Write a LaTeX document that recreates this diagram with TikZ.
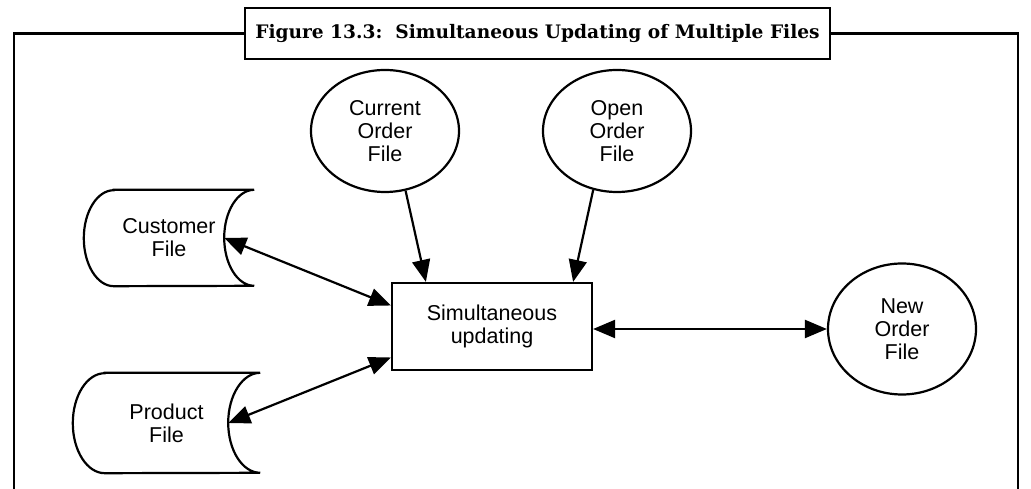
\documentclass[tikz,border=0pt]{standalone}
\usepackage{fontspec}
\setmainfont{Liberation Sans}
\newfontfamily\capfont{DejaVu Serif}
\usetikzlibrary{arrows.meta,shapes.geometric}
\newcommand{\storeoutline}[3]{\draw[line width=2.2pt] ([xshift=#2pt]#1.north west) -- (#1.north east) arc[start angle=90,end angle=270,x radius=#2,y radius=#3] -- ([xshift=#2pt]#1.south west) arc[start angle=270,end angle=90,x radius=#2,y radius=#3] -- cycle;}

\begin{document}
\begin{tikzpicture}[x=1pt,y=1pt,
  every node/.style={font=\fontsize{21.5}{23}\selectfont,align=center},
  oval/.style={ellipse,draw,line width=2.2pt,inner sep=0pt,minimum width=148pt,minimum height=122pt},
  store/.style={inner sep=0pt},
  oneway/.style={-{Triangle[length=22pt,width=18pt]},line width=2.2pt},
  twoway/.style={{Triangle[length=22pt,width=18pt]}-{Triangle[length=22pt,width=18pt]},line width=2.2pt}]
  \useasboundingbox (0,0) rectangle (1031,489);
  % caption and frame
  \node[draw,line width=2.4pt,fill=white,minimum width=585pt,minimum height=51pt,inner sep=0pt,
    font=\capfont\bfseries\fontsize{18.6}{20}\selectfont] (cap) at (537.5,455.5)
    {Figure 13.3:\ \ Simultaneous Updating of Multiple Files};
  \draw[line width=2.2pt] (cap.west) -| (14,0);
  \draw[line width=2.2pt] (cap.east) -| (1018,0);
  % files
  \node[oval] (cur) at (385,358) {Current\\Order\\File};
  \node[oval] (open) at (617,358) {Open\\Order\\File};
  \node[oval,minimum height=131pt] (new) at (902,160) {New\\Order\\File};
  \node[store,minimum width=170pt,minimum height=96pt] (cust) at (169,251) {Customer\\File};
  \node[store,minimum width=187pt,minimum height=100pt] (prod) at (166.5,66) {Product\\File};
  \storeoutline{cust}{30}{48}
  \storeoutline{prod}{32}{50}
  \node[draw,line width=2.2pt,minimum width=200pt,minimum height=87pt,inner sep=0pt] (upd) at (492,162.5) {Simultaneous\\updating};
  % connectors
  \draw[oneway] (cur.-71) -- ([xshift=35pt]upd.north west);
  \draw[oneway] (open.-112) -- ([xshift=-20pt]upd.north east);
  \draw[twoway] ([xshift=-30pt]cust.east) -- ([yshift=21pt]upd.west);
  \draw[twoway] ([xshift=-32pt]prod.east) -- ([yshift=-31pt]upd.west);
  \draw[twoway] (new.west -| upd.east) -- (new.west);
\end{tikzpicture}
\end{document}
